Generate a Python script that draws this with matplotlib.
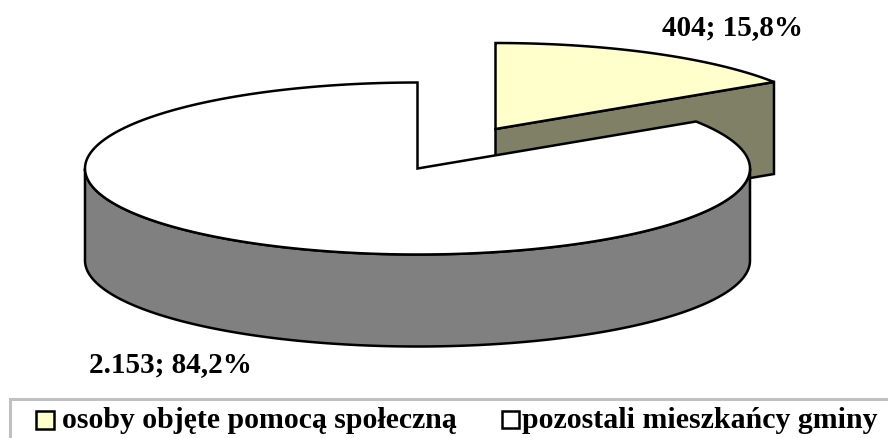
import numpy as np
import matplotlib.pyplot as plt
from matplotlib.patches import Polygon, Rectangle

labels = ["osoby objęte pomocą społeczną", "pozostali mieszkańcy gminy"]
values = [404, 2153]
data_labels = ["404; 15,8%", "2.153; 84,2%"]
top_colors = ["#FFFFCC", "#FFFFFF"]
wall_colors = ["#808066", "#808080"]

plt.rcParams["font.family"] = ["Liberation Serif", "DejaVu Serif"]

fig = plt.figure(figsize=(8.88, 4.38), dpi=100)
ax = fig.add_axes([0, 0, 1, 1])
ax.set_xlim(0, 888)
ax.set_ylim(438, 0)
ax.axis("off")

# Ellipse shape of the pie, pixel units
rx, ry, depth = 332.5, 86, 92
small_c = (495.5, 129)
big_c = (417.5, 168.5)

split = 360 * values[0] / sum(values)


def arc(c, a0, a1, dy=0):
    # angles clockwise from the top
    t = np.radians(np.linspace(a0, a1, 300))
    return np.column_stack([c[0] + rx * np.sin(t), c[1] - ry * np.cos(t) + dy])


def draw(pts, face):
    ax.add_patch(Polygon(pts, closed=True, facecolor=face, edgecolor="black",
                         linewidth=1.8, joinstyle="miter"))


# Pulled out slice: cut face, then top
edge = arc(small_c, split, split)[0]
draw([small_c, edge, (edge[0], edge[1] + depth), (small_c[0], small_c[1] + depth)],
     wall_colors[0])
draw(np.vstack([[small_c], arc(small_c, 0, split)]), top_colors[0])

# Big slice: front wall, then top
front_top = arc(big_c, 90, 270)
front_bottom = arc(big_c, 270, 90, depth)
draw(np.vstack([front_top, front_bottom]), wall_colors[1])
draw(np.vstack([[big_c], arc(big_c, split, 360)]), top_colors[1])

ax.text(732, 28, data_labels[0], fontsize=21, fontweight="bold", ha="center", va="center")
ax.text(170.5, 365, data_labels[1], fontsize=21, fontweight="bold", ha="center", va="center")

# Legend, frame runs off the right and bottom of the picture
ax.add_patch(Rectangle((9.5, 399), 900, 60, facecolor="white", edgecolor="#C0C0C0", linewidth=2.2))
ax.add_patch(Rectangle((36, 411), 18, 18, facecolor=top_colors[0], edgecolor="black", linewidth=1.8))
ax.text(62, 420, labels[0], fontsize=21.4, fontweight="bold", ha="left", va="center")
ax.add_patch(Rectangle((501.5, 411), 17, 17, facecolor=top_colors[1], edgecolor="black", linewidth=1.8))
ax.text(522, 420, labels[1], fontsize=21.5, fontweight="bold", ha="left", va="center")

fig.savefig("out.png", dpi=100)
